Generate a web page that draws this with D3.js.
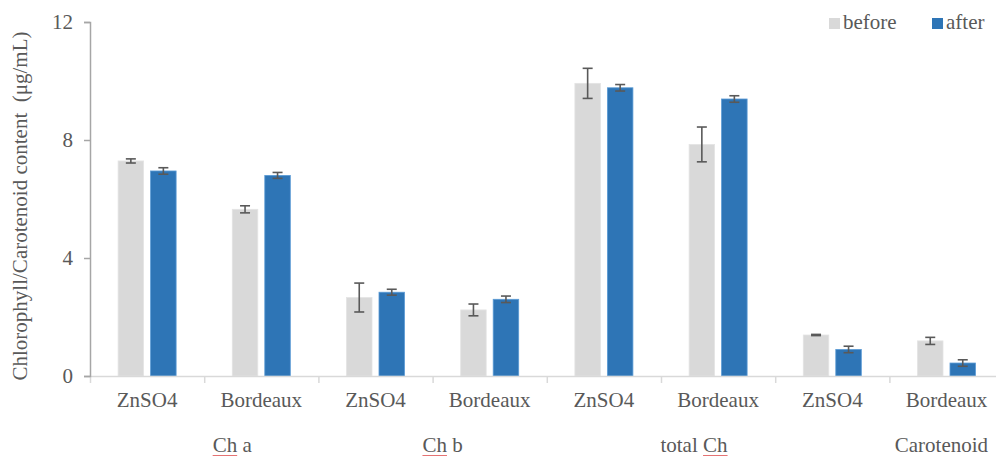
<!DOCTYPE html>
<html>
<head>
<meta charset="utf-8">
<script src="https://cdn.jsdelivr.net/npm/d3@7"></script>
<style>
  body { margin: 0; background: #fff; }
  text { font-family: "Liberation Serif", "Times New Roman", serif; fill: #595959; }
</style>
</head>
<body>
<svg id="chart" width="996" height="457"></svg>
<script>
// data
const groups = ["Ch a", "Ch b", "total Ch", "Carotenoid"];
const treatments = ["ZnSO4", "Bordeaux"];
const series = ["before", "after"];
const beforeVals = [7.29, 5.65, 2.66, 2.24, 9.92, 7.85, 1.39, 1.19];
const afterVals  = [6.95, 6.80, 2.84, 2.60, 9.77, 9.39, 0.90, 0.44];
const beforeErr  = [0.07, 0.12, 0.49, 0.20, 0.51, 0.59, 0.02, 0.12];
const afterErr   = [0.11, 0.10, 0.10, 0.11, 0.11, 0.11, 0.11, 0.11];
const yTicks = [0, 4, 8, 12];
const colors = { before: "#d9d9d9", after: "#2e75b6" };

const svg = d3.select("#chart");
const padLeft = 90, padTop = 22, axisY = 376, step = 114.2;

// one slot per group x treatment
let cats = [];
groups.forEach(g => treatments.forEach(t => cats.push(g + "|" + t)));

const x = d3.scaleBand()
  .domain(cats)
  .range([padLeft, padLeft + step * cats.length])
  .padding(0);

const xSub = d3.scaleBand()
  .domain(series)
  .range([0, x.bandwidth()])
  .paddingInner(0.215)
  .paddingOuter(0.864);

const y = d3.scaleLinear()
  .domain([0, 12])
  .range([axisY, padTop]);

// bars
let rows = [];
cats.forEach((c, i) => {
  rows.push({ cat: c, s: "before", v: beforeVals[i], e: beforeErr[i] });
  rows.push({ cat: c, s: "after", v: afterVals[i], e: afterErr[i] });
});

svg.append("g").selectAll("rect")
  .data(rows)
  .enter().append("rect")
  .attr("x", d => x(d.cat) + xSub(d.s))
  .attr("y", d => y(d.v))
  .attr("width", xSub.bandwidth())
  .attr("height", d => y(0) - y(d.v))
  .attr("fill", d => colors[d.s])
  .attr("stroke", d => d.s == "after" ? "#5b9bd5" : "#e4e4e4")
  .attr("stroke-width", 0.8);

// error bars
const eb = svg.append("g").attr("stroke", "#595959").attr("stroke-width", 1.6);
rows.forEach(d => {
  let cx = x(d.cat) + xSub(d.s) + xSub.bandwidth() / 2;
  let y1 = y(d.v + d.e), y2 = y(d.v - d.e);
  eb.append("line").attr("x1", cx).attr("x2", cx).attr("y1", y1).attr("y2", y2);
  eb.append("line").attr("x1", cx - 5).attr("x2", cx + 5).attr("y1", y1).attr("y2", y1);
  eb.append("line").attr("x1", cx - 5).attr("x2", cx + 5).attr("y1", y2).attr("y2", y2);
});

// x axis
const xAxisG = svg.append("g");
xAxisG.append("line")
  .attr("x1", padLeft).attr("x2", x.range()[1])
  .attr("y1", axisY + 0.5).attr("y2", axisY + 0.5)
  .attr("stroke", "#d9d9d9").attr("stroke-width", 1.5);
cats.forEach(c => {
  xAxisG.append("line")
    .attr("x1", x(c) + 0.5).attr("x2", x(c) + 0.5)
    .attr("y1", axisY).attr("y2", axisY + 7)
    .attr("stroke", "#d9d9d9").attr("stroke-width", 1.5);
});
xAxisG.selectAll("text.cat")
  .data(cats)
  .enter().append("text")
  .attr("class", "cat")
  .attr("x", d => x(d) + x.bandwidth() / 2)
  .attr("y", 407)
  .attr("text-anchor", "middle")
  .style("font-size", "21px")
  .text(d => d.split("|")[1]);

// group labels (Excel places them a bit off centre)
const nudge = [28, 10, 33, 52];
groups.forEach((g, i) => {
  let cx = x(g + "|" + treatments[0]) + x.bandwidth() + nudge[i];
  let t = svg.append("text")
    .attr("x", cx).attr("y", 452)
    .attr("text-anchor", "middle")
    .style("font-size", "21px")
    .text(g);
  let idx = g.indexOf("Ch");
  if (idx >= 0) {
    let node = t.node();
    let bb = node.getBBox();
    let start = bb.x + (idx > 0 ? node.getSubStringLength(0, idx) : 0);
    let w = node.getSubStringLength(idx, 2);
    svg.append("line")
      .attr("x1", start).attr("x2", start + w)
      .attr("y1", 455.5).attr("y2", 455.5)
      .attr("stroke", "#e57373").attr("stroke-width", 1);
  }
});

// y axis
const yAxis = d3.axisLeft(y).tickValues(yTicks).tickSize(6).tickPadding(11);
const yG = svg.append("g")
  .attr("transform", "translate(" + padLeft + ",0)")
  .call(yAxis);
yG.select(".domain").attr("stroke", "#a6a6a6").attr("stroke-width", 1.5);
yG.selectAll(".tick line").attr("stroke", "#a6a6a6").attr("stroke-width", 1.5);
yG.selectAll(".tick text")
  .style("font-size", "21px")
  .style("font-family", "'Liberation Serif', 'Times New Roman', serif")
  .attr("fill", "#595959");

svg.append("text")
  .attr("transform", "translate(27,206) rotate(-90)")
  .attr("text-anchor", "middle")
  .style("font-size", "21px")
  .text("Chlorophyll/Carotenoid content\u00a0 (\u03bcg/mL)");

// legend
const legend = svg.append("g");
const legX = [829, 932];
series.forEach((s, i) => {
  legend.append("rect")
    .attr("x", legX[i]).attr("y", 18)
    .attr("width", 11).attr("height", 11)
    .attr("fill", colors[s]);
  legend.append("text")
    .attr("x", legX[i] + 14).attr("y", 29)
    .style("font-size", "21px")
    .text(s);
});
</script>
</body>
</html>
